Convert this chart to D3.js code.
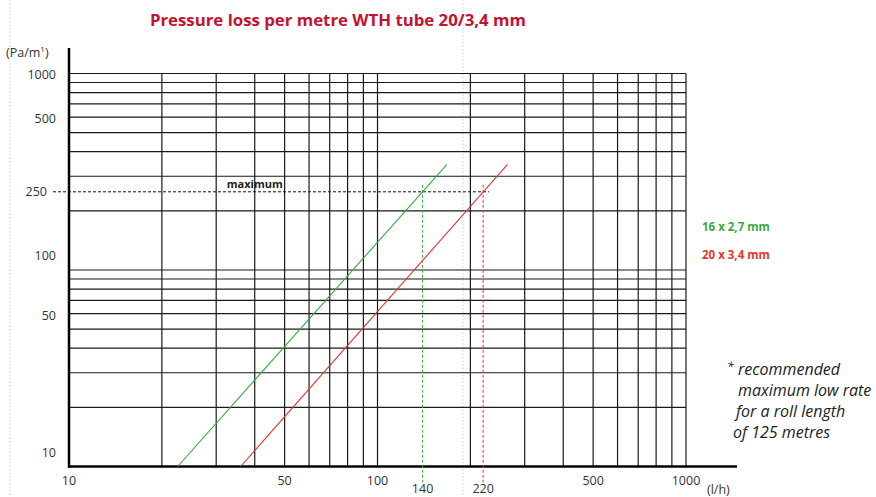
<!DOCTYPE html>
<html>
<head>
<meta charset="utf-8">
<script src="https://cdn.jsdelivr.net/npm/d3@7"></script>
<style>
  html, body { margin: 0; padding: 0; background: #fff; }
  svg { display: block; font-family: "Open Sans", "Noto Sans", sans-serif; }
</style>
</head>
<body>
<svg id="chart" width="876" height="497"></svg>
<script>
// ---- data ----
const titleText = "Pressure loss per metre WTH tube 20/3,4 mm";
const flowTickLabels = [10, 50, 100, 500, 1000];        // (l/h)
const pressureTickLabels = [10, 50, 100, 500, 1000];    // (Pa/m1)
const seriesNames = ["16 x 2,7 mm", "20 x 3,4 mm"];
const flow16 = [22.5, 168];
const pressure16 = [10, 345];
const flow20 = [36, 264];
const pressure20 = [10, 345];
const maxPressure = 250;
const maxFlows = [140, 220];
const noteLines = ["recommended", "maximum low rate", "for a roll length", "of 125 metres"];

// ---- setup ----
const svg = d3.select("#chart");
const W = 876, H = 497;
const green = "#3aaa3c", red = "#e2372f";

const x = d3.scaleLog().domain([10, 1000]).range([69, 686]);
const y = d3.scaleLog().domain([10, 1000]).range([466.5, 73.5]);

// guide dotted lines (page guides)
[10, 463].forEach(gx => {
  svg.append("line").attr("x1", gx).attr("x2", gx).attr("y1", 0).attr("y2", H)
    .attr("stroke", "#cfcfcf").attr("stroke-width", 1).attr("stroke-dasharray", "1.5,2");
});

// title
svg.append("text").attr("x", 338).attr("y", 26).attr("text-anchor", "middle")
  .attr("font-size", 16.8).attr("font-weight", 700).attr("fill", "#c4122f")
  .text(titleText);

// grid
const gridG = svg.append("g");
const xGrid = x.ticks().filter(v => v > 10);
const yGrid = y.ticks().filter(v => v > 10);
gridG.selectAll("line.v").data(xGrid).join("line")
  .attr("x1", d => x(d)).attr("x2", d => x(d))
  .attr("y1", y(1000)).attr("y2", y(10))
  .attr("stroke", "#1a1a1a").attr("stroke-width", 1.2);
gridG.selectAll("line.h").data(yGrid).join("line")
  .attr("x1", x(10)).attr("x2", x(1000))
  .attr("y1", d => y(d)).attr("y2", d => y(d))
  .attr("stroke", "#1a1a1a").attr("stroke-width", 1.2);

// axes lines
svg.append("line").attr("x1", x(10)).attr("x2", x(10)).attr("y1", 48).attr("y2", y(10) + 1)
  .attr("stroke", "#000").attr("stroke-width", 2.5);
svg.append("line").attr("x1", x(10) - 1).attr("x2", 737).attr("y1", y(10)).attr("y2", y(10))
  .attr("stroke", "#000").attr("stroke-width", 2.5);

// tick labels
svg.append("g").selectAll("text").data(pressureTickLabels).join("text")
  .attr("x", 56).attr("y", d => Math.max(y(d) - 14, y(1000) + 1.5))
  .attr("dy", "0.35em").attr("text-anchor", "end")
  .attr("font-size", 12.5).attr("fill", "#333").text(d => d);
svg.append("g").selectAll("text").data(flowTickLabels).join("text")
  .attr("x", d => x(d)).attr("y", 481).attr("dy", "0.35em").attr("text-anchor", "middle")
  .attr("font-size", 12.5).attr("fill", "#333").text(d => d);

// units
const ylab = svg.append("text").attr("x", 6).attr("y", 57).attr("font-size", 12.5).attr("fill", "#333");
ylab.append("tspan").text("(Pa/m");
ylab.append("tspan").attr("font-size", 8).attr("dy", -5).text("1");
ylab.append("tspan").attr("dy", 5).text(")");
svg.append("text").attr("x", 707).attr("y", 494).attr("font-size", 12.5).attr("fill", "#333").text("(l/h)");

// maximum line
svg.append("line").attr("x1", 53).attr("x2", x(maxFlows[1]) + 6)
  .attr("y1", y(maxPressure)).attr("y2", y(maxPressure))
  .attr("stroke", "#111").attr("stroke-width", 1).attr("stroke-dasharray", "3,2");
svg.append("text").attr("x", 47).attr("y", y(maxPressure)).attr("dy", "0.35em")
  .attr("text-anchor", "end").attr("font-size", 12.5).attr("fill", "#333").text(maxPressure);
svg.append("text").attr("x", x(40)).attr("y", y(maxPressure) - 4).attr("text-anchor", "middle")
  .attr("font-size", 11).attr("font-weight", 700).attr("fill", "#222").text("maximum");

const colors = [green, red];
maxFlows.forEach((f, i) => {
  svg.append("line").attr("x1", x(f)).attr("x2", x(f))
    .attr("y1", y(maxPressure) - 7).attr("y2", y(10) + 16)
    .attr("stroke", colors[i]).attr("stroke-width", 1).attr("stroke-dasharray", "3,2");
  svg.append("text").attr("x", x(f)).attr("y", 488.5).attr("dy", "0.35em").attr("text-anchor", "middle")
    .attr("font-size", 12.5).attr("fill", "#333").text(f);
});

// series lines
const line = d3.line().x(d => x(d[0])).y(d => y(d[1]));
const series = [
  { name: seriesNames[0], pts: d3.zip(flow16, pressure16), color: green },
  { name: seriesNames[1], pts: d3.zip(flow20, pressure20), color: red }
];
svg.append("g").selectAll("path").data(series).join("path")
  .attr("d", d => line(d.pts)).attr("fill", "none")
  .attr("stroke", d => d.color).attr("stroke-width", 1.1);

// legend
svg.append("g").selectAll("text").data(series).join("text")
  .attr("x", 702).attr("y", (d, i) => 227 + i * 28).attr("dy", "0.35em")
  .attr("font-size", 11.5).attr("font-weight", 700).attr("fill", d => d.color).text(d => d.name);

// footnote
const note = svg.append("g").attr("font-style", "italic").attr("font-size", 16).attr("fill", "#222");
note.append("text").attr("x", 727).attr("y", 367).attr("dy", "0.35em").attr("font-size", 12).text("*");
note.selectAll("text.l").data(noteLines).join("text").attr("class", "l")
  .attr("x", (d, i) => [738, 738, 736, 733][i]).attr("y", (d, i) => 369 + i * 21).attr("dy", "0.35em")
  .text(d => d);
</script>
</body>
</html>
